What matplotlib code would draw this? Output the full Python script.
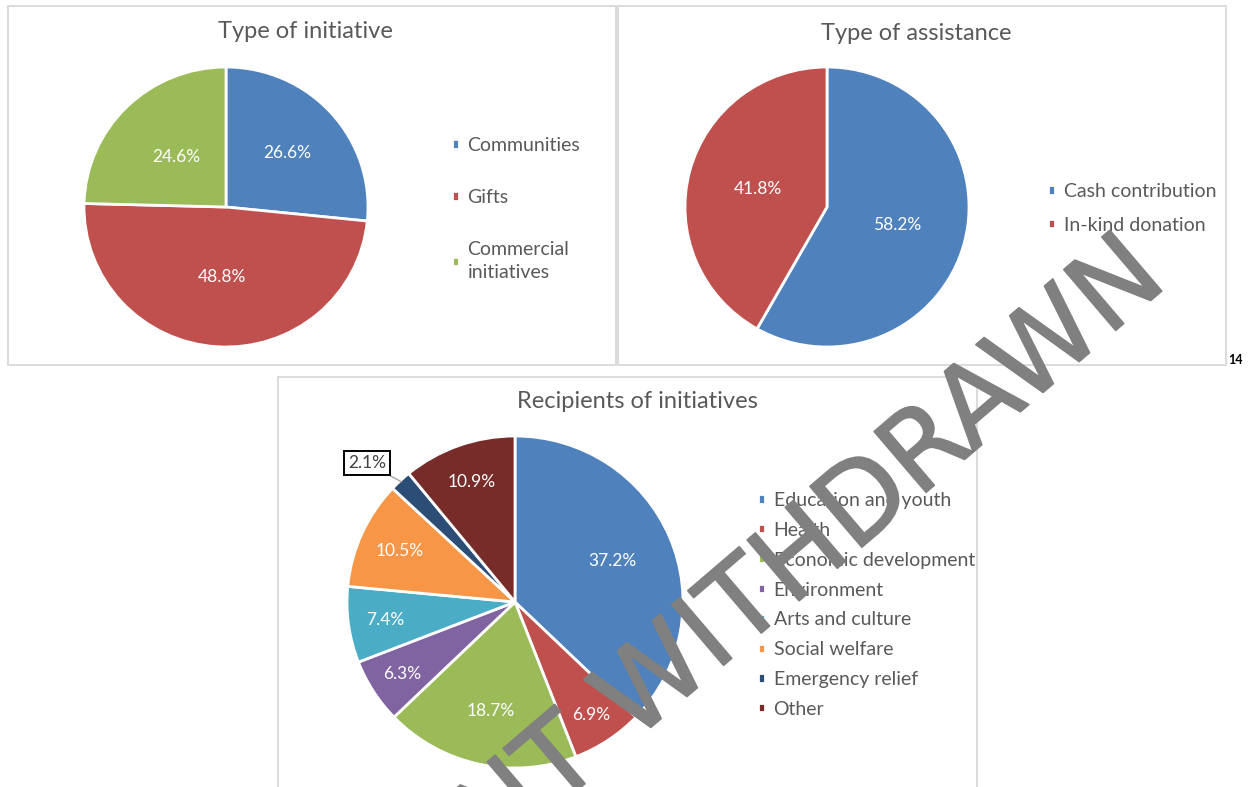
import numpy as np
import matplotlib
matplotlib.use('Agg')
import matplotlib.pyplot as plt
import matplotlib.patheffects as pe
from matplotlib.patches import Rectangle

plt.rcParams['font.family'] = ['Lato', 'DejaVu Sans']

# data
init_labels = ['Communities', 'Gifts', 'Commercial\ninitiatives']
init_values = [26.6, 48.8, 24.6]
init_colors = ['#4F81BD', '#C0504D', '#9BBB59']

assist_labels = ['Cash contribution', 'In-kind donation']
assist_values = [58.2, 41.8]
assist_colors = ['#4F81BD', '#C0504D']

recip_labels = ['Education and youth', 'Health', 'Economic development', 'Environment',
                'Arts and culture', 'Social welfare', 'Emergency relief', 'Other']
recip_values = [37.2, 6.9, 18.7, 6.3, 7.4, 10.5, 2.1, 10.9]
recip_colors = ['#4F81BD', '#C0504D', '#9BBB59', '#8064A2',
                '#4BACC6', '#F79646', '#2C4D75', '#772C2A']

W, H = 1249, 787
fig = plt.figure(figsize=(W / 100, H / 100), dpi=100)
fig.patch.set_facecolor('white')

TXT = '#595959'


def fx(x):
    return x / W


def fy(y):
    return 1 - y / H


def panel(x0, y0, x1, y1):
    fig.patches.append(Rectangle((fx(x0), fy(y1)), (x1 - x0) / W, (y1 - y0) / H,
                                 transform=fig.transFigure, fill=False,
                                 edgecolor='#D9D9D9', linewidth=1.3, zorder=0))


def pie_axes(cx, cy, rx, ry):
    ax = fig.add_axes([fx(cx - rx), fy(cy + ry), 2 * rx / W, 2 * ry / H])
    return ax


def draw_pie(ax, values, colors, dists, skip=()):
    wedges, _ = ax.pie(values, colors=colors, startangle=90, counterclock=False,
                       wedgeprops=dict(edgecolor='white', linewidth=2))
    ax.set_xlim(-1, 1)
    ax.set_ylim(-1, 1)
    ax.set_aspect('auto')
    ax.axis('off')
    for i, (w, v) in enumerate(zip(wedges, values)):
        if i in skip:
            continue
        a = np.deg2rad((w.theta1 + w.theta2) / 2)
        d = dists[i]
        ax.text(d * np.cos(a), d * np.sin(a), f'{v:.1f}%', color='white',
                fontsize=12.5, ha='center', va='center')
    return wedges


def legend(wedges, labels, x, y, spacing):
    leg = fig.legend(wedges, labels, loc='upper left', bbox_to_anchor=(fx(x), fy(y)),
                     frameon=False, fontsize=14, labelcolor=TXT, handlelength=0.35,
                     handleheight=0.35, handletextpad=0.45, labelspacing=spacing,
                     borderpad=0, borderaxespad=0)
    for t in leg.get_texts():
        t.set_linespacing(1.45)
    return leg


# panel frames
panel(8, 6, 616, 365)
panel(618, 6, 1226, 365)
panel(278, 377, 977, 800)

# chart 1
fig.text(fx(305), fy(32), 'Type of initiative', fontsize=17, color=TXT,
         ha='center', va='center')
ax1 = pie_axes(226, 207, 142, 140)
w1 = draw_pie(ax1, init_values, init_colors, [0.58, 0.5, 0.5])
legend(w1, init_labels, 452, 137, 1.8)

# chart 2
fig.text(fx(916), fy(33), 'Type of assistance', fontsize=17, color=TXT,
         ha='center', va='center')
ax2 = pie_axes(827, 207, 142, 140)
w2 = draw_pie(ax2, assist_values, assist_colors, [0.51, 0.5])
legend(w2, assist_labels, 1048, 183, 0.85)

# chart 3
fig.text(fx(637), fy(402), 'Recipients of initiatives', fontsize=17, color=TXT,
         ha='center', va='center')
ax3 = pie_axes(515, 602, 168, 166)
w3 = draw_pie(ax3, recip_values, recip_colors,
              [0.63, 0.82, 0.67, 0.8, 0.78, 0.75, 0.0, 0.77], skip=(6,))
we = w3[6]
a = np.deg2rad((we.theta1 + we.theta2) / 2)
b = a + np.deg2rad(3.5)
ax3.annotate(f'{recip_values[6]:.1f}%', xy=(0.99 * np.cos(a), 0.99 * np.sin(a)),
             xytext=(1.215 * np.cos(b), 1.215 * np.sin(b)), ha='center', va='center',
             fontsize=12.5, color='#404040', annotation_clip=False,
             bbox=dict(boxstyle='square,pad=0.22', fc='white', ec='black', lw=1.4),
             arrowprops=dict(arrowstyle='-', color='#A6A6A6', lw=1,
                             shrinkA=0, shrinkB=0))
legend(w3, recip_labels, 758, 492, 0.66)

# page number
fig.text(fx(1228), fy(360), '14', fontsize=9, fontweight='bold', color='black',
         ha='left', va='center')

# watermark
fig.text(fx(1170), fy(284), 'NT WITHDRAWN', family='DejaVu Sans', fontsize=79,
         color='#808080', rotation=40.5, rotation_mode='anchor',
         ha='right', va='baseline', zorder=10,
         path_effects=[pe.withStroke(linewidth=1.2, foreground='#808080')])

fig.savefig('out.png', dpi=100, facecolor='white')
